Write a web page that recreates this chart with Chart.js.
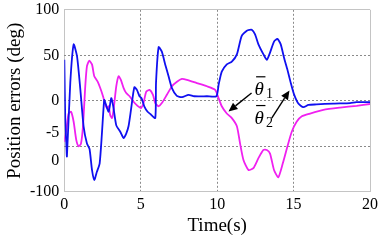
<!DOCTYPE html>
<html>
<head>
<meta charset="utf-8">
<script src="https://cdn.jsdelivr.net/npm/chart.js@4/dist/chart.umd.min.js"></script>
<style>
  html, body { margin: 0; padding: 0; background: #fff; }
  #wrap { width: 383px; height: 241px; }
</style>
</head>
<body>
<div id="wrap"><canvas id="errChart" width="383" height="241"></canvas></div>
<script>
// time (s) and position error (deg)
const blueT = [0, 0.06, 0.13, 0.17, 0.39, 0.61, 0.83, 1.05, 1.26, 1.48, 1.65, 1.81, 1.96, 2.13, 2.31, 2.46, 2.61, 2.7, 2.9, 3.07, 3.2, 3.4, 3.66, 3.88, 4.05, 4.2, 4.36, 4.58, 4.75, 4.92, 5.05, 5.23, 5.45, 5.66, 5.95, 6.0, 6.17, 6.38, 6.6, 6.82, 7.04, 7.36, 7.7, 8.13, 8.5, 9.33, 9.95, 10.1, 10.3, 10.63, 10.96, 11.29, 11.6, 11.94, 12.27, 12.48, 12.7, 13.03, 13.25, 13.46, 13.72, 13.94, 14.16, 14.38, 14.6, 14.81, 15.03, 15.31, 15.64, 15.97, 16.5, 17.6, 18.7, 19.1, 20];
const blueV = [45, -20, -47, -61, 20, 62, 49, 12, -28, -47, -53, -76, -87, -78, -69, -36, 1, -3, -12, 3, -6, -27, -34, -41, -36, -28, -10, 15, 12, 5, 3, -6, -12, -15, -19, 20, 59, 54, 40, 27, 14, 5.5, 4, 6.6, 5, 5, 5, 18, 32, 40, 43, 51, 71, 77, 78, 73, 62, 51, 45, 53, 65, 68, 62, 47, 34, 20, 7, -3, -7, -4.5, -4, -3, -2.5, -1.5, -1.5];

const magentaT = [0, 0.13, 0.28, 0.44, 0.61, 0.78, 0.94, 1.09, 1.22, 1.37, 1.48, 1.63, 1.81, 1.96, 2.18, 2.35, 2.53, 2.66, 2.79, 2.9, 3.0, 3.12, 3.22, 3.4, 3.55, 3.7, 3.88, 4.05, 4.27, 4.53, 4.79, 5.01, 5.18, 5.36, 5.58, 5.8, 5.95, 6.16, 6.38, 6.71, 7.04, 7.37, 7.69, 8.02, 8.67, 9.33, 9.87, 10.09, 10.3, 10.63, 10.96, 11.29, 11.5, 11.72, 12.05, 12.37, 12.7, 13.03, 13.25, 13.46, 13.72, 14.0, 14.29, 14.6, 14.88, 15.2, 15.54, 16.08, 16.95, 18.04, 19.13, 20];
const magentaV = [-45, -32, -14, -12, -23, -43, -50, -47, -28, 16, 38, 44, 40, 27, 21, 14, 5, -3, -8, -6, -15.5, -19, -10, 16, 27, 23, 14, 8.5, 5, -1, -5.5, -8, -2.5, 10, 12, 6.6, -2.5, -6, -2.5, 6.6, 16, 21, 24, 23, 19.5, 16, 12, 3, -6, -14, -19, -28, -47, -65, -76, -74, -63, -54, -54, -58, -76, -84, -69, -50, -34, -23, -17, -14, -10, -7.5, -5.5, -3.5];

const xTicks = [0, 5, 10, 15, 20];
const yTicks = [-100, -50, 0, 50, 100];

// curve labels with arrows (data coordinates)
const curveLabels = [
    { sym: "θ", sub: "1", x: 12.45, y: 6.6, from: [12.25, 8.5], to: [10.74, -11.8] },
    { sym: "θ", sub: "2", x: 12.45, y: -25, from: [13.57, -19], to: [14.73, 11.4] },
];

const serif = "'Liberation Serif', 'Times New Roman', serif";

const toPoints = (ts, vs) => ts.map((t, i) => ({ x: t, y: vs[i] }));

const edgeColor = (ctx, n) =>
    ctx.index === 0 || ctx.index === n - 1 ? "#c4c4c4" : "#8a8a8a";
const edgeDash = (ctx, n) =>
    ctx.index === 0 || ctx.index === n - 1 ? [] : [2, 2];

const labelPlugin = {
    id: "curveLabels",
    afterDatasetsDraw(chart) {
        const { ctx, scales } = chart;
        const xs = scales.x, ys = scales.y;
        ctx.save();
        ctx.fillStyle = "#000";
        ctx.strokeStyle = "#000";
        curveLabels.forEach((lb) => {
            // arrow
            const x1 = xs.getPixelForValue(lb.from[0]), y1 = ys.getPixelForValue(lb.from[1]);
            const x2 = xs.getPixelForValue(lb.to[0]), y2 = ys.getPixelForValue(lb.to[1]);
            const ang = Math.atan2(y2 - y1, x2 - x1);
            const hl = 9, hw = 4;
            const bx = x2 - hl * Math.cos(ang), by = y2 - hl * Math.sin(ang);
            ctx.lineWidth = 1.4;
            ctx.beginPath();
            ctx.moveTo(x1, y1);
            ctx.lineTo(bx, by);
            ctx.stroke();
            ctx.beginPath();
            ctx.moveTo(x2, y2);
            ctx.lineTo(bx + hw * Math.sin(ang), by - hw * Math.cos(ang));
            ctx.lineTo(bx - hw * Math.sin(ang), by + hw * Math.cos(ang));
            ctx.closePath();
            ctx.fill();

            // theta with bar and subscript
            const tx = xs.getPixelForValue(lb.x), ty = ys.getPixelForValue(lb.y);
            ctx.font = "italic 19px " + serif;
            ctx.textBaseline = "alphabetic";
            ctx.textAlign = "left";
            ctx.fillText(lb.sym, tx, ty);
            const w = ctx.measureText(lb.sym).width;
            ctx.lineWidth = 1.2;
            ctx.beginPath();
            ctx.moveTo(tx + 1.5, ty - 18);
            ctx.lineTo(tx + w + 1.5, ty - 18);
            ctx.stroke();
            ctx.font = "14px " + serif;
            ctx.fillText(lb.sub, tx + w + 2, ty + 3);
        });
        ctx.restore();
    },
};

new Chart(document.getElementById("errChart"), {
    type: "line",
    data: {
        datasets: [
            {
                label: "theta1",
                data: toPoints(blueT, blueV),
                borderColor: "#1010f0",
                borderWidth: 1.8,
                pointRadius: 0,
                tension: 0.2,
                fill: false,
            },
            {
                label: "theta2",
                data: toPoints(magentaT, magentaV),
                borderColor: "#f020f0",
                borderWidth: 1.8,
                pointRadius: 0,
                tension: 0.2,
                fill: false,
            },
        ],
    },
    plugins: [labelPlugin],
    options: {
        responsive: false,
        animation: false,
        devicePixelRatio: 1,
        layout: { padding: { top: 2, right: 13, left: 0, bottom: 0 } },
        plugins: {
            legend: { display: false },
            tooltip: { enabled: false },
        },
        scales: {
            x: {
                type: "linear",
                min: 0,
                max: 20,
                afterBuildTicks: (axis) => {
                    axis.ticks = xTicks.map((v) => ({ value: v }));
                },
                ticks: {
                    color: "#000",
                    padding: 3,
                    autoSkip: false,
                    maxRotation: 0,
                    font: { family: serif, size: 16 },
                },
                grid: {
                    drawTicks: false,
                    color: (c) => edgeColor(c, xTicks.length),
                    lineWidth: 1,
                },
                border: { display: false, dash: (c) => edgeDash(c, xTicks.length) },
                title: {
                    display: true,
                    text: "Time(s)",
                    color: "#000",
                    font: { family: serif, size: 19, lineHeight: 1 },
                    padding: { top: 0, bottom: 5 },
                },
            },
            y: {
                min: -100,
                max: 100,
                afterBuildTicks: (axis) => {
                    axis.ticks = yTicks.map((v) => ({ value: v }));
                },
                ticks: {
                    color: "#000",
                    padding: 5,
                    autoSkip: false,
                    font: (c) => ({
                        family: serif,
                        size: 16,
                        lineHeight: c.tick && c.tick.value === -50 ? 1.75 : 0.6,
                    }),
                    callback: (v) => (v === -50 ? ["-5", "0"] : String(v)),
                },
                grid: {
                    drawTicks: false,
                    color: (c) => edgeColor(c, yTicks.length),
                    lineWidth: 1,
                },
                border: { display: false, dash: (c) => edgeDash(c, yTicks.length) },
                title: {
                    display: true,
                    text: "Position errors (deg)",
                    color: "#000",
                    font: { family: serif, size: 19, lineHeight: 1 },
                    padding: { top: 6, bottom: 0 },
                },
            },
        },
    },
});
</script>
</body>
</html>
